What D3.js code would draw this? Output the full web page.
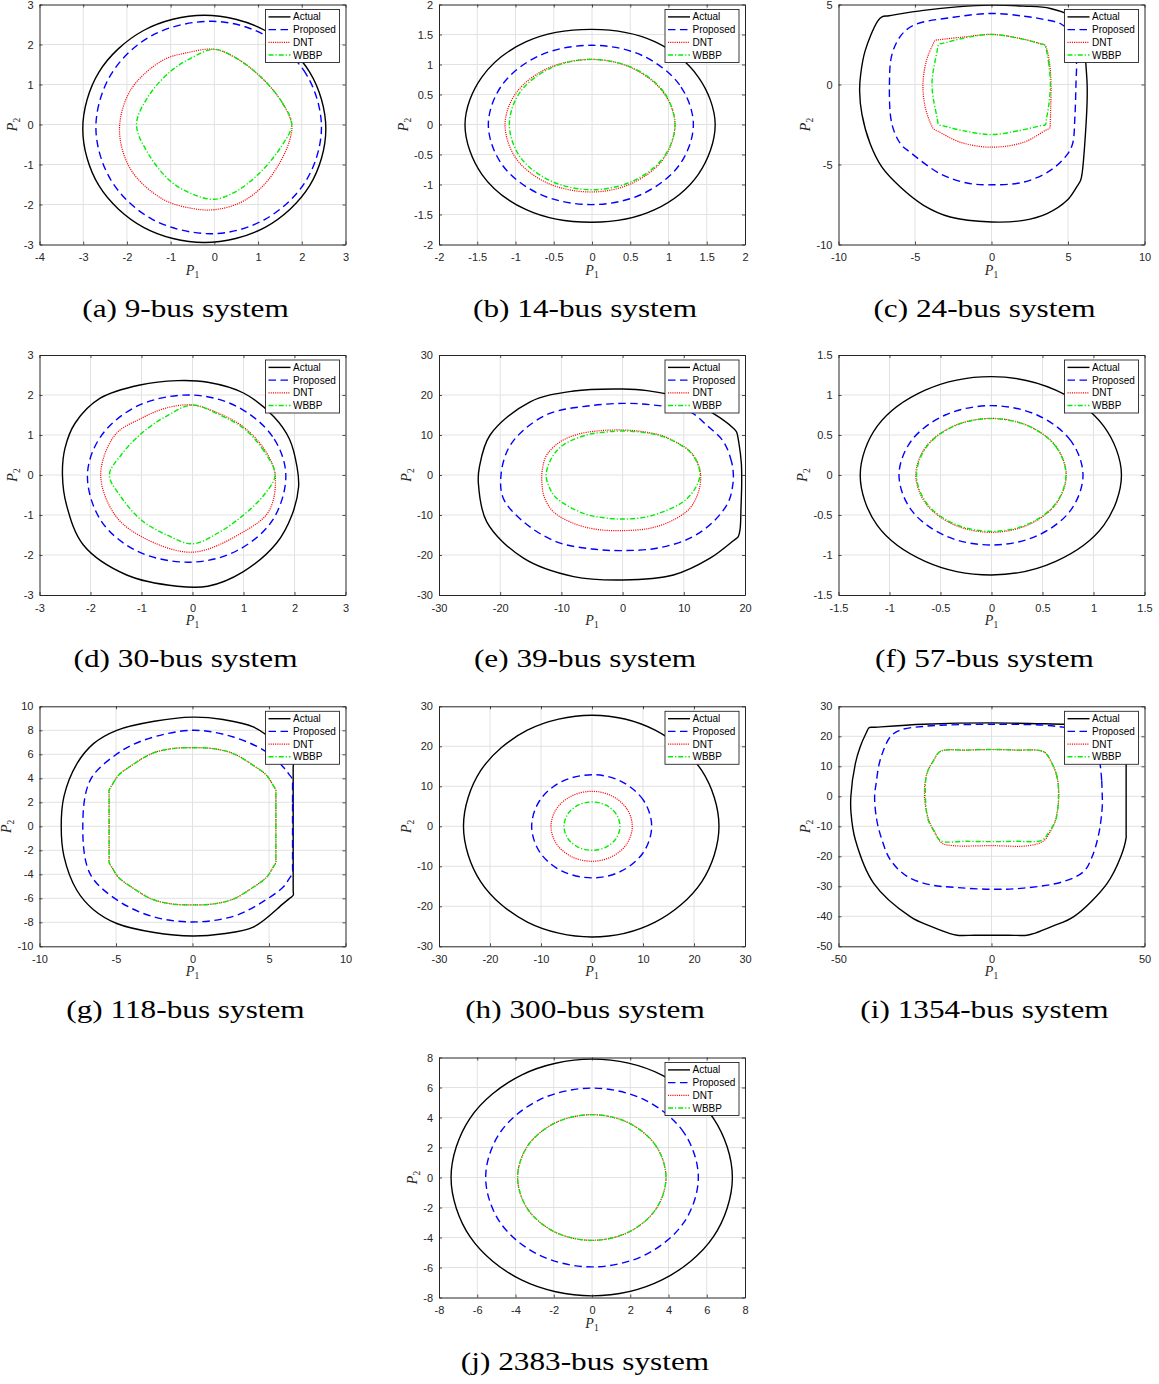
<!DOCTYPE html>
<html><head><meta charset="utf-8">
<script src="https://cdn.jsdelivr.net/npm/d3@7"></script>
<style>
body{margin:0;background:#fff;}
svg{display:block;}
</style></head><body>
<svg id="chart" width="1159" height="1384"></svg>
<script>
// ---------------- DATA ----------------
const seriesNames = ["Actual","Proposed","DNT","WBBP"];
const captions = ["(a) 9-bus system","(b) 14-bus system","(c) 24-bus system","(d) 30-bus system","(e) 39-bus system","(f) 57-bus system","(g) 118-bus system","(h) 300-bus system","(i) 1354-bus system","(j) 2383-bus system"];

const xTicks = [
 [-4,-3,-2,-1,0,1,2,3],
 [-2,-1.5,-1,-0.5,0,0.5,1,1.5,2],
 [-10,-5,0,5,10],
 [-3,-2,-1,0,1,2,3],
 [-30,-20,-10,0,10,20],
 [-1.5,-1,-0.5,0,0.5,1,1.5],
 [-10,-5,0,5,10],
 [-30,-20,-10,0,10,20,30],
 [-50,0,50],
 [-8,-6,-4,-2,0,2,4,6,8]
];
const yTicks = [
 [-3,-2,-1,0,1,2,3],
 [-2,-1.5,-1,-0.5,0,0.5,1,1.5,2],
 [-10,-5,0,5],
 [-3,-2,-1,0,1,2,3],
 [-30,-20,-10,0,10,20,30],
 [-1.5,-1,-0.5,0,0.5,1,1.5],
 [-10,-8,-6,-4,-2,0,2,4,6,8,10],
 [-30,-20,-10,0,10,20,30],
 [-50,-40,-30,-20,-10,0,10,20,30],
 [-8,-6,-4,-2,0,2,4,6,8]
];

// boundary points [P1, P2] for each panel (a..j)
const actual = [
 [[2.55,-0.11],[2.18,1.31],[1.16,2.35],[-0.23,2.73],[-1.62,2.35],[-2.64,1.31],[-3.01,-0.11],[-2.64,-1.53],[-1.62,-2.57],[-0.23,-2.95],[1.16,-2.57],[2.18,-1.53]],
 [[1.61,0],[1.39,0.79],[0.82,1.38],[0,1.585],[-0.86,1.38],[-1.44,0.79],[-1.66,0],[-1.44,-0.83],[-0.86,-1.42],[0,-1.63],[0.82,-1.42],[1.39,-0.83]],
 [[6.25,0],[6.15,1.5],[6.0,3.2],[5.5,4.1],[3.85,4.75],[2.1,4.9],[0,4.96],[-2.26,4.85],[-4.44,4.63],[-6.7,4.3],[-7.16,4.23],[-7.45,3.95],[-8.26,2.1],[-8.55,0.64],[-8.62,-0.39],[-8.47,-1.85],[-7.93,-3.71],[-7.16,-5.17],[-5.96,-6.41],[-4.44,-7.55],[-2.7,-8.28],[0,-8.59],[2.1,-8.49],[3.63,-8.07],[4.94,-7.24],[5.6,-6.35],[5.82,-6.0],[5.93,-5.5],[6.14,-3.09],[6.25,-1.02]],
 [[2.05,0.2],[1.9,0.9],[1.6,1.45],[1.0,2.05],[0.3,2.32],[-0.3,2.36],[-1.03,2.25],[-1.81,1.92],[-2.3,1.3],[-2.5,0.67],[-2.55,0],[-2.47,-0.75],[-2.14,-1.75],[-1.29,-2.5],[-0.3,-2.78],[0.3,-2.78],[0.99,-2.42],[1.65,-1.7],[1.95,-1.0],[2.08,-0.3]],
 [[19.46,-2.0],[19.4,3.0],[19.0,8.0],[18.6,10.8],[18.1,11.7],[14.8,15.4],[9.9,19.2],[4.0,21.1],[0,21.5],[-8.0,21.0],[-15.1,18.3],[-21.65,10.0],[-23.4,2.0],[-23.57,-2.0],[-22.2,-11.7],[-16.2,-20.8],[-8.0,-25.4],[0,-26.25],[8.3,-25.0],[14.3,-20.8],[18.2,-16.3],[18.9,-15.4],[19.2,-13.5],[19.35,-8.0]],
 [[1.274,0],[1.10,0.61],[0.63,1.06],[0,1.23],[-0.65,1.06],[-1.12,0.61],[-1.287,0],[-1.12,-0.63],[-0.65,-1.08],[0,-1.25],[0.63,-1.08],[1.10,-0.63]],
 [[6.58,0],[6.58,2.5],[6.58,4.9],[6.58,5.36],[6.2,5.9],[5.5,6.9],[3.97,8.28],[2.0,8.9],[0,9.1],[-2.5,8.75],[-4.95,8.0],[-6.47,6.89],[-7.56,5.2],[-8.4,2.5],[-8.58,0],[-8.4,-2.5],[-7.56,-5.33],[-6.47,-6.95],[-4.95,-8.1],[-2.5,-8.85],[0,-9.14],[2.0,-8.95],[3.97,-8.4],[5.93,-6.44],[6.35,-6.0],[6.58,-5.75],[6.58,-5.3],[6.58,-2.5]],
 [[24.9,0],[21.54,13.89],[12.38,24.03],[0,27.75],[-12.68,24.03],[-21.84,13.89],[-25.2,0],[-21.84,-13.81],[-12.68,-23.95],[0,-27.67],[12.38,-23.95],[21.54,-13.81]],
 [[44.0,0],[44.0,12.0],[44.0,21.5],[43.0,23.6],[24.5,24.0],[0,24.46],[-22.2,24.0],[-38.5,23.0],[-39.97,22.9],[-41.0,21.0],[-42.9,16.5],[-44.5,10.9],[-45.96,0],[-45.9,-5.7],[-44.5,-14.5],[-38.5,-29.0],[-26.55,-40.1],[-20.0,-43.3],[-14.0,-45.6],[-11.3,-46.3],[-5.5,-46.3],[0,-46.3],[5.5,-46.3],[11.6,-46.3],[14.3,-45.6],[20.0,-43.3],[26.9,-40.1],[37.8,-29.0],[42.3,-20.0],[44.0,-13.8],[44.0,-12.9],[44.0,-6.0]],
 [[7.34,0],[6.35,3.945],[3.66,6.83],[0,7.89],[-3.69,6.83],[-6.38,3.945],[-7.37,0],[-6.38,-3.945],[-3.69,-6.83],[0,-7.89],[3.66,-6.83],[6.35,-3.945]]
];

const proposed = [
 [[2.45,-0.07],[2.10,1.26],[1.16,2.23],[-0.05,2.58],[-1.42,2.23],[-2.36,1.26],[-2.71,-0.07],[-2.36,-1.40],[-1.42,-2.37],[-0.05,-2.73],[1.16,-2.37],[2.10,-1.40]],
 [[1.325,0],[1.145,0.66],[0.655,1.15],[0,1.32],[-0.685,1.15],[-1.175,0.66],[-1.355,0],[-1.175,-0.67],[-0.685,-1.16],[0,-1.335],[0.655,-1.16],[1.145,-0.67]],
 [[5.52,0],[5.55,1.5],[5.35,2.9],[4.6,3.75],[3.41,4.07],[2.1,4.27],[0,4.44],[-2.5,4.2],[-4.98,3.75],[-5.86,3.13],[-6.5,1.9],[-6.67,0],[-6.51,-2.47],[-5.95,-3.7],[-5.3,-4.25],[-3.35,-5.58],[-1.6,-6.16],[0,-6.27],[2.1,-6.1],[3.85,-5.37],[4.94,-4.38],[5.3,-3.7],[5.45,-2.05]],
 [[1.83,0],[1.57,0.96],[0.86,1.72],[-0.05,2.0],[-1.09,1.72],[-1.8,0.96],[-2.06,0],[-1.8,-1.13],[-1.09,-1.9],[-0.05,-2.18],[0.86,-1.9],[1.57,-1.13]],
 [[18.1,0],[17.8,3.3],[16.5,8.3],[13.7,12.5],[11.0,15.8],[5.0,17.5],[0,17.9],[-6.0,17.2],[-11.9,15.4],[-16.2,11.2],[-18.7,6.5],[-19.87,0],[-19.5,-5.8],[-16.2,-11.7],[-10.8,-16.7],[-5.0,-18.5],[0,-18.9],[5.6,-18.3],[11.0,-15.8],[14.8,-11.7],[17.3,-6.7],[18.0,-2.5]],
 [[0.897,0],[0.777,0.43],[0.447,0.75],[0,0.867],[-0.453,0.75],[-0.785,0.43],[-0.907,0],[-0.785,-0.44],[-0.453,-0.76],[0,-0.875],[0.447,-0.76],[0.777,-0.44]],
 [[6.54,0],[6.54,2.0],[6.54,3.5],[6.54,3.9],[6.3,4.35],[5.93,4.94],[4.84,6.2],[2.67,7.44],[0,8.0],[-3.2,7.17],[-5.06,5.92],[-6.69,3.83],[-7.17,0],[-6.7,-3.94],[-5.06,-6.03],[-2.67,-7.5],[0,-7.97],[2.67,-7.5],[4.4,-6.44],[5.93,-5.06],[6.3,-4.4],[6.54,-3.9],[6.54,-3.5],[6.54,-2.0]],
 [[11.7,0],[10.12,6.45],[5.8,11.17],[0.3,12.9],[-5.95,11.17],[-10.25,6.45],[-11.83,0],[-10.25,-6.45],[-5.95,-11.17],[0.3,-12.9],[5.8,-11.17],[10.12,-6.45]],
 [[36.2,0],[36.0,5.4],[35.6,9.8],[34.6,16.0],[31.5,21.0],[21.4,23.3],[0,24.0],[-22.2,23.3],[-30.0,22.0],[-33.1,19.8],[-36.4,12.0],[-37.7,4.3],[-38.2,0],[-37.5,-7.9],[-35.8,-14.5],[-33.1,-21.1],[-27.6,-26.7],[-20.0,-29.5],[-11.3,-30.4],[0,-31.0],[10.5,-30.6],[23.6,-28.4],[30.2,-25.0],[32.9,-20.1],[35.1,-12.3],[36.2,-3.4]],
 [[5.56,0],[4.815,2.98],[2.78,5.16],[0,5.96],[-2.78,5.16],[-4.815,2.98],[-5.56,0],[-4.815,-2.98],[-2.78,-5.16],[0,-5.96],[2.78,-5.16],[4.815,-2.98]]
];

const dnt = [
 [[1.77,0],[1.55,0.55],[1.1,1.15],[0.5,1.66],[0,1.88],[-0.6,1.8],[-1.19,1.6],[-1.91,0.87],[-2.17,-0.13],[-1.91,-1.13],[-1.19,-1.86],[-0.5,-2.1],[0,-2.13],[0.6,-1.95],[1.1,-1.55],[1.5,-0.95],[1.72,-0.4]],
 [[1.085,0],[0.936,0.53],[0.53,0.937],[0,1.085],[-0.58,0.937],[-0.99,0.53],[-1.137,0],[-0.99,-0.57],[-0.58,-0.977],[0,-1.125],[0.53,-0.977],[0.936,-0.57]],
 [[3.89,0],[3.81,1.24],[3.6,2.25],[3.48,2.47],[3.2,2.55],[1.89,2.88],[0,3.13],[-1.82,2.97],[-3.4,2.8],[-3.67,2.76],[-3.85,2.45],[-4.25,1.5],[-4.48,0],[-4.33,-1.43],[-3.95,-2.5],[-3.78,-2.78],[-3.5,-2.92],[-2.03,-3.61],[0,-3.92],[2.11,-3.61],[3.55,-2.85],[3.81,-2.72],[3.84,-2.4],[3.87,-1.45]],
 [[1.62,0],[1.42,0.62],[1.0,1.2],[0.5,1.55],[0,1.75],[-0.5,1.68],[-1.0,1.42],[-1.52,1.0],[-1.8,0],[-1.52,-1.0],[-1.0,-1.54],[0,-1.93],[1.0,-1.42],[1.5,-0.9]],
 [[12.75,0],[12.2,3.3],[11.1,5.8],[10.0,7.1],[6.7,9.7],[3.5,10.8],[0,11.25],[-4.2,11.0],[-7.5,10.1],[-10.2,8.3],[-12.4,5.0],[-13.1,1.5],[-13.2,-1.5],[-12.8,-5.5],[-11.3,-9.2],[-8.0,-12.1],[-4.2,-13.6],[0,-13.9],[4.5,-13.3],[8.3,-11.25],[11.0,-8.3],[12.4,-4.2]],
 [[0.733,0],[0.635,0.354],[0.366,0.613],[0,0.708],[-0.371,0.613],[-0.643,0.354],[-0.742,0],[-0.643,-0.358],[-0.371,-0.62],[0,-0.717],[0.366,-0.62],[0.635,-0.358]],
 [[5.45,0],[5.45,1.5],[5.45,2.7],[5.45,3.0],[5.25,3.45],[4.84,4.25],[3.97,5.08],[2.67,6.06],[1.36,6.47],[0,6.55],[-1.36,6.47],[-2.67,6.06],[-3.97,5.08],[-4.84,4.25],[-5.25,3.45],[-5.45,3.0],[-5.45,2.7],[-5.45,1.5],[-5.45,0],[-5.45,-1.5],[-5.45,-2.7],[-5.45,-3.0],[-5.25,-3.45],[-4.84,-4.25],[-3.97,-5.08],[-2.67,-6.06],[-1.36,-6.47],[0,-6.55],[1.36,-6.47],[2.67,-6.06],[3.97,-5.08],[4.84,-4.25],[5.25,-3.45],[5.45,-3.0],[5.45,-2.7],[5.45,-1.5]],
 [[7.9,0],[6.83,4.38],[3.92,7.58],[0,8.75],[-4.02,7.58],[-6.97,4.38],[-8.04,0],[-6.97,-4.38],[-4.02,-7.58],[0,-8.75],[3.92,-7.58],[6.83,-4.38]],
 [[22.0,0],[21.4,6.5],[19.8,10.9],[17.1,14.8],[8.0,15.4],[0,15.6],[-8.0,15.4],[-16.7,15.0],[-18.9,12.0],[-21.1,7.6],[-21.9,0],[-20.5,-7.9],[-18.4,-12.3],[-16.2,-15.6],[-12.4,-16.45],[0,-16.45],[12.2,-16.45],[17.1,-14.8],[19.2,-11.8],[20.9,-7.9]],
 [[3.87,0],[3.35,2.095],[1.935,3.63],[0,4.19],[-1.945,3.63],[-3.37,2.095],[-3.89,0],[-3.37,-2.095],[-1.945,-3.63],[0,-4.19],[1.935,-3.63],[3.35,-2.095]]
];

const wbbp = [
 [[1.77,0],[1.55,0.55],[1.1,1.15],[0.5,1.66],[0,1.88],[-0.5,1.68],[-1.0,1.33],[-1.5,0.72],[-1.78,0],[-1.5,-0.75],[-1.0,-1.42],[-0.5,-1.74],[0,-1.87],[0.5,-1.67],[1.0,-1.25],[1.5,-0.6]],
 [[1.085,0],[0.94,0.54],[0.54,0.94],[0,1.085],[-0.54,0.94],[-0.94,0.54],[-1.08,0],[-0.94,-0.54],[-0.54,-0.94],[0,-1.087],[0.54,-0.94],[0.94,-0.54]],
 [[3.85,0],[3.75,1.24],[3.55,2.3],[3.48,2.47],[3.2,2.55],[1.8,2.88],[0,3.13],[-1.8,2.9],[-3.2,2.57],[-3.45,2.51],[-3.55,2.1],[-3.89,0],[-3.55,-2.1],[-3.45,-2.51],[-3.2,-2.57],[-1.8,-2.9],[0,-3.13],[1.8,-2.88],[3.25,-2.57],[3.52,-2.51],[3.6,-2.1],[3.75,-1.24]],
 [[1.62,0],[1.4,0.6],[1.0,1.17],[0.5,1.52],[0,1.75],[-0.5,1.48],[-1.0,1.04],[-1.4,0.5],[-1.63,0],[-1.4,-0.55],[-1.0,-1.13],[-0.5,-1.5],[0,-1.72],[0.5,-1.45],[1.0,-1.0],[1.4,-0.5]],
 [[12.65,0],[12.1,3.3],[11.0,5.8],[9.9,7.1],[6.6,9.6],[3.5,10.6],[0,11.0],[-3.0,10.7],[-5.9,10.0],[-9.7,7.5],[-11.5,4.5],[-12.5,0],[-11.9,-3.3],[-10.8,-5.8],[-6.4,-9.6],[-3.0,-10.7],[0,-11.0],[3.5,-10.6],[6.6,-9.2],[9.9,-6.7],[11.8,-3.5]],
 [[0.73,0],[0.632,0.353],[0.365,0.61],[0,0.705],[-0.368,0.61],[-0.636,0.353],[-0.735,0],[-0.636,-0.353],[-0.368,-0.61],[0,-0.705],[0.365,-0.61],[0.632,-0.353]],
 [[5.45,0],[5.45,1.5],[5.45,2.7],[5.45,3.0],[5.25,3.45],[4.84,4.25],[3.97,5.08],[2.67,6.06],[1.36,6.47],[0,6.55],[-1.36,6.47],[-2.67,6.06],[-3.97,5.08],[-4.84,4.25],[-5.25,3.45],[-5.45,3.0],[-5.45,2.7],[-5.45,1.5],[-5.45,0],[-5.45,-1.5],[-5.45,-2.7],[-5.45,-3.0],[-5.25,-3.45],[-4.84,-4.25],[-3.97,-5.08],[-2.67,-6.06],[-1.36,-6.47],[0,-6.55],[1.36,-6.47],[2.67,-6.06],[3.97,-5.08],[4.84,-4.25],[5.25,-3.45],[5.45,-3.0],[5.45,-2.7],[5.45,-1.5]],
 [[5.49,0],[4.75,3.04],[2.75,5.27],[0,6.08],[-2.75,5.27],[-4.75,3.04],[-5.49,0],[-4.75,-3.0],[-2.75,-5.2],[0,-6.0],[2.75,-5.2],[4.75,-3.0]],
 [[21.9,0],[21.4,6.5],[19.8,10.9],[17.1,14.8],[8.0,15.4],[0,15.6],[-8.0,15.4],[-16.7,15.0],[-18.9,12.0],[-21.1,7.6],[-21.6,0],[-20.7,-7.9],[-18.6,-11.8],[-16.7,-14.8],[-8.0,-15.0],[0,-15.1],[8.0,-15.0],[16.5,-14.6],[19.0,-11.5],[21.0,-7.9]],
 [[3.87,0],[3.35,2.095],[1.935,3.63],[0,4.19],[-1.945,3.63],[-3.37,2.095],[-3.89,0],[-3.37,-2.095],[-1.945,-3.63],[0,-4.19],[1.935,-3.63],[3.35,-2.095]]
];

// ---------------- LAYOUT / STYLE ----------------
const W = 306, H = 240;
const lefts = [39.5, 439, 838.5];
const tops = [4.5, 355, 706.3, 1057.5];
const panelPos = [[0,0],[1,0],[2,0],[0,1],[1,1],[2,1],[0,2],[1,2],[2,2],[1,3]];
const styles = [
  {stroke:"#000000", width:1.4, dash:null},
  {stroke:"#0000ff", width:1.4, dash:"7.5,4.5"},
  {stroke:"#ff0000", width:1.2, dash:"1.1,1.1"},
  {stroke:"#00ee00", width:1.4, dash:"5,2,1.2,2"}
];
const seriesData = [actual, proposed, dnt, wbbp];
const axisColor = "#262626";
const sansFont = "'Liberation Sans', Arial, Helvetica, sans-serif";
const serifFont = "'Liberation Serif', 'Times New Roman', serif";

const svg = d3.select("#chart");
svg.append("rect").attr("width",1159).attr("height",1384).attr("fill","#fff");

captions.forEach((cap, i) => {
  const [c, r] = panelPos[i];
  const x0 = lefts[c], y0 = tops[r];
  const g = svg.append("g").attr("transform", `translate(${x0},${y0})`);
  const xt = xTicks[i], yt = yTicks[i];
  const x = d3.scaleLinear().domain([xt[0], xt[xt.length-1]]).range([0, W]);
  const y = d3.scaleLinear().domain([yt[0], yt[yt.length-1]]).range([H, 0]);

  g.append("rect").attr("width",W).attr("height",H).attr("fill","#fff");

  // grid
  const grid = g.append("g").attr("stroke","#e2e2e2").attr("stroke-width",1);
  grid.selectAll("line.gx").data(xt.slice(1,-1)).join("line").attr("class","gx")
    .attr("x1",d=>x(d)).attr("x2",d=>x(d)).attr("y1",0).attr("y2",H);
  grid.selectAll("line.gy").data(yt.slice(1,-1)).join("line").attr("class","gy")
    .attr("y1",d=>y(d)).attr("y2",d=>y(d)).attr("x1",0).attr("x2",W);

  const cid = "clip" + i;
  g.append("clipPath").attr("id",cid).append("rect").attr("width",W).attr("height",H);

  const line = d3.line().x(d=>x(d[0])).y(d=>y(d[1])).curve(d3.curveCatmullRomClosed.alpha(0.5));
  const curves = g.append("g").attr("clip-path",`url(#${cid})`);
  seriesData.forEach((s, k) => {
    const st = styles[k];
    curves.append("path").attr("d", line(s[i]))
      .attr("fill","none").attr("stroke",st.stroke).attr("stroke-width",st.width)
      .attr("stroke-dasharray", st.dash).attr("stroke-linejoin","round");
  });

  // axes
  const fmt = d => String(d);
  const axB = g.append("g").attr("transform",`translate(0,${H})`)
    .call(d3.axisBottom(x).tickValues(xt).tickFormat(fmt).tickSize(-3).tickSizeOuter(0).tickPadding(9));
  const axL = g.append("g")
    .call(d3.axisLeft(y).tickValues(yt).tickFormat(fmt).tickSize(-3).tickSizeOuter(0).tickPadding(6));
  g.append("g").call(d3.axisTop(x).tickValues(xt).tickFormat("").tickSize(-3).tickSizeOuter(0));
  g.append("g").attr("transform",`translate(${W},0)`)
    .call(d3.axisRight(y).tickValues(yt).tickFormat("").tickSize(-3).tickSizeOuter(0));
  g.selectAll(".domain").attr("stroke",axisColor).attr("stroke-width",1);
  g.selectAll(".tick line").attr("stroke",axisColor).attr("stroke-width",0.8);
  [axB, axL].forEach(a => a.attr("font-family", sansFont).attr("font-size", 11).attr("color", axisColor));
  g.selectAll(".tick text").attr("fill", axisColor);

  // x label
  const xl = g.append("text").attr("x", W/2).attr("y", H + 30).attr("text-anchor","middle")
    .attr("font-family", serifFont).attr("fill", axisColor);
  xl.append("tspan").attr("font-style","italic").attr("font-size",14).text("P");
  xl.append("tspan").attr("font-size",9.5).attr("dy",3).text("1");

  // y label
  let maxW = 0;
  axL.selectAll("text").each(function(){ maxW = Math.max(maxW, this.getComputedTextLength()); });
  const lx = -6 - maxW - 11 + 4.5;
  const yl = g.append("text").attr("transform",`translate(${lx},${H/2}) rotate(-90)`)
    .attr("text-anchor","middle").attr("font-family", serifFont).attr("fill", axisColor);
  yl.append("tspan").attr("font-style","italic").attr("font-size",14).text("P");
  yl.append("tspan").attr("font-size",9.5).attr("dy",3).text("2");

  // legend
  const lw = 74, lh = 53;
  const lg = g.append("g").attr("transform", `translate(${W - 6 - lw},5)`);
  lg.append("rect").attr("width",lw).attr("height",lh).attr("fill","#fff")
    .attr("stroke",axisColor).attr("stroke-width",0.9);
  seriesNames.forEach((n, k) => {
    const yy = 7.4 + k * 12.7;
    const st = styles[k];
    lg.append("line").attr("x1",3).attr("x2",25).attr("y1",yy).attr("y2",yy)
      .attr("stroke",st.stroke).attr("stroke-width",st.width).attr("stroke-dasharray",st.dash);
    lg.append("text").attr("x",27.5).attr("y",yy).attr("dy","0.35em")
      .attr("font-family",sansFont).attr("font-size",10).attr("fill","#000").text(n);
  });

  // caption
  const t = svg.append("text").attr("x", x0 + W/2 - 7).attr("y", y0 + H + 72)
    .attr("text-anchor","middle").attr("font-family", serifFont).attr("font-size",25)
    .attr("fill","#000").text(cap);
  const L = t.node().getComputedTextLength();
  t.attr("textLength", L * 1.25).attr("lengthAdjust","spacingAndGlyphs");
});
</script></body></html>
